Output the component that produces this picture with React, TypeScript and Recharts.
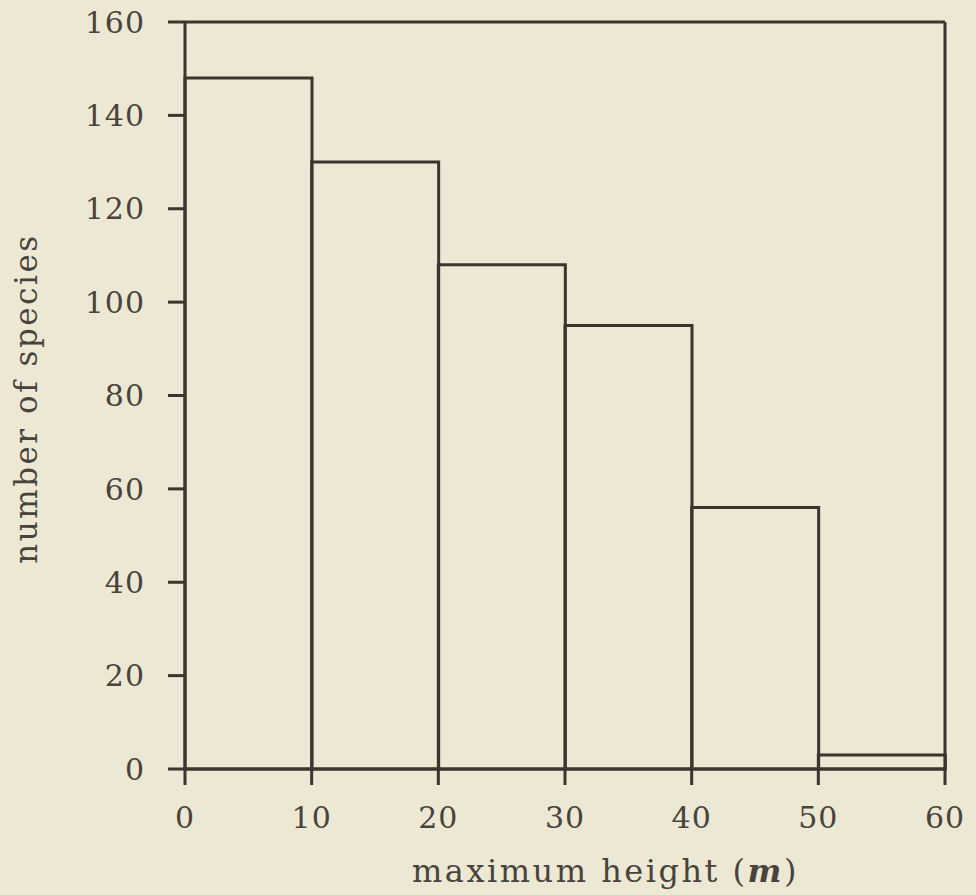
import React from "react";
import {
  BarChart,
  Bar,
  XAxis,
  YAxis,
  ReferenceLine,
} from "recharts";

// bin midpoints (maximum height, m) and species counts
const binMid = [5, 15, 25, 35, 45, 55];
const speciesCount = [148, 130, 108, 95, 56, 3];
const xTicks = [0, 10, 20, 30, 40, 50, 60];
const yTicks = [0, 20, 40, 60, 80, 100, 120, 140, 160];

const data = binMid.map((mid, i) => ({ mid, count: speciesCount[i] }));

const INK = "#3a352e";
const TEXT = "#48433c";
const BG = "#ece8d3";
const FONT = "'DejaVu Serif', 'Liberation Serif', serif";

const YLabel = (props: any) => {
  const { viewBox } = props;
  const x = viewBox.x + 28;
  const y = viewBox.y + viewBox.height / 2 + 3;
  return (
    <text
      x={x}
      y={y}
      transform={`rotate(-90 ${x} ${y})`}
      textAnchor="middle"
      dominantBaseline="middle"
      fill={TEXT}
      fontFamily={FONT}
      fontSize={31}
      letterSpacing={2.5}
    >
      number of species
    </text>
  );
};

const XLabel = (props: any) => {
  const { viewBox } = props;
  const x = viewBox.x + 227;
  const y = viewBox.y + 113;
  return (
    <text
      x={x}
      y={y}
      fill={TEXT}
      fontFamily={FONT}
      fontSize={32}
      letterSpacing={2.5}
    >
      maximum height{" "}
      <tspan>(</tspan>
      <tspan fontStyle="italic" fontWeight="bold">m</tspan>
      <tspan>)</tspan>
    </text>
  );
};

const App = () => {
  return (
    <div style={{ position: "absolute", left: 0, top: 0, width: 976, height: 895, background: BG }}>
      <BarChart
        width={976}
        height={895}
        data={data}
        margin={{ top: 22, right: 31, left: 0, bottom: 0 }}
        barCategoryGap={0}
        barGap={0}
      >
        <XAxis
          dataKey="mid"
          type="number"
          domain={[0, 60]}
          ticks={xTicks}
          interval={0}
          height={126}
          tickSize={16}
          tickMargin={22}
          axisLine={{ stroke: INK, strokeWidth: 3 }}
          tickLine={{ stroke: INK, strokeWidth: 3 }}
          tick={{ fill: TEXT, fontFamily: FONT, fontSize: 30, letterSpacing: 1 }}
          label={{ content: XLabel }}
        />
        <YAxis
          type="number"
          domain={[0, 160]}
          ticks={yTicks}
          interval={0}
          width={185}
          tickSize={17}
          tickMargin={23}
          axisLine={{ stroke: INK, strokeWidth: 3 }}
          tickLine={{ stroke: INK, strokeWidth: 3 }}
          tick={{ fill: TEXT, fontFamily: FONT, fontSize: 30, letterSpacing: 1 }}
          label={{ content: YLabel }}
        />
        <ReferenceLine y={160} stroke={INK} strokeWidth={3} />
        <ReferenceLine x={60} stroke={INK} strokeWidth={3} />
        <Bar
          dataKey="count"
          fill="none"
          stroke={INK}
          strokeWidth={3}
          isAnimationActive={false}
        />
      </BarChart>
    </div>
  );
};

export default App;
